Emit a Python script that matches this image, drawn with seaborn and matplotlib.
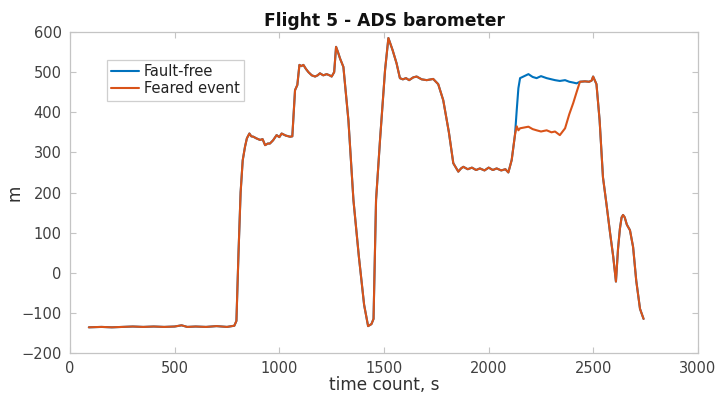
import numpy as np
import pandas as pd
import matplotlib
matplotlib.use("Agg")
import matplotlib.pyplot as plt
import seaborn as sns

# Barometric altitude over time (common part before the divergence)
t_pre = [90, 150, 200, 250, 300, 350, 400, 450, 500, 533, 560, 600, 650, 700, 750,
         785, 795, 805, 815, 825, 836, 845, 857, 866, 876, 890, 908, 920, 932, 945,
         955, 970, 987, 1000, 1011, 1030, 1051, 1062, 1075, 1086, 1096, 1105, 1115,
         1127, 1139, 1155, 1171, 1183, 1194, 1210, 1226, 1240, 1250, 1262, 1271,
         1280, 1290, 1306, 1330, 1354, 1380, 1405, 1424, 1440, 1450, 1462, 1481,
         1505, 1521, 1531, 1541, 1560, 1576, 1590, 1605, 1620, 1640, 1656, 1680,
         1704, 1735, 1759, 1783, 1810, 1831, 1855, 1868, 1879, 1900, 1920, 1940,
         1958, 1980, 2000, 2020, 2038, 2060, 2080, 2094, 2110, 2126]
h_pre = [-136, -135, -136, -135, -134, -135, -134, -135, -134, -131, -135, -134, -135, -133, -135,
         -132, -120, 50, 200, 280, 314, 335, 347, 340, 339, 335, 331, 333, 318, 322,
         322, 330, 343, 338, 347, 342, 339, 340, 455, 468, 518, 515, 518,
         508, 500, 492, 489, 492, 497, 492, 495, 492, 489, 500, 563,
         550, 534, 513, 380, 181, 40, -80, -133, -128, -115, 181, 331,
         505, 585, 570, 555, 522, 485, 482, 485, 480, 487, 489, 482,
         480, 483, 470, 430, 350, 273, 252, 260, 264, 258, 262, 256,
         260, 255, 262, 256, 260, 255, 258, 250, 281, 345]

# Segment where the two series differ
t_mid = [2134, 2142, 2150, 2170, 2190, 2210, 2229, 2250, 2277, 2300, 2317, 2340,
         2365, 2385, 2404, 2420]
h_mid_fault_free = [405, 460, 485, 490, 495, 488, 485, 490, 485, 482, 480, 478,
                    480, 476, 474, 472]
h_mid_feared = [365, 355, 360, 362, 364, 358, 355, 352, 355, 350, 352, 343,
                360, 395, 423, 450]

# Common part after the two series rejoin
t_post = [2436, 2460, 2480, 2492, 2499, 2515, 2530, 2546, 2563, 2580, 2595, 2608,
          2618, 2627, 2635, 2642, 2650, 2660, 2675, 2690, 2705, 2723, 2740]
h_post = [476, 477, 476, 479, 489, 470, 380, 238, 170, 99, 40, -22,
          60, 110, 138, 144, 138, 120, 106, 64, -20, -90, -115]

time = t_pre + t_mid + t_post
fault_free = h_pre + h_mid_fault_free + h_post
feared = h_pre + h_mid_feared + h_post

df = pd.DataFrame({"t": time, "ff": fault_free, "fe": feared})

sns.set_style("white")
plt.rcParams["font.family"] = ["DejaVu Sans"]

fig = plt.figure(figsize=(7.17, 4.03), dpi=100)
ax = fig.add_axes([70 / 717, 1 - 353 / 403, 628 / 717, 321 / 403])

blue = "#0072BD"
orange = "#D95319"
sns.lineplot(data=df, x="t", y="ff", ax=ax, color=blue, lw=1.5, sort=False,
             label="Fault-free")
sns.lineplot(data=df, x="t", y="fe", ax=ax, color=orange, lw=1.5, sort=False,
             label="Feared event")

ax.set_xlim(0, 3000)
ax.set_ylim(-200, 600)
ax.set_xticks(np.arange(0, 3001, 500))
ax.set_yticks(np.arange(-200, 601, 100))

grey = "#c4c4c4"
for s in ax.spines.values():
    s.set_visible(True)
    s.set_color(grey)
    s.set_linewidth(0.9)
ax.tick_params(direction="in", length=4, width=0.8, color=grey,
               labelcolor="#404040", labelsize=10.5, top=True, right=True,
               bottom=True, left=True)
ax.tick_params(axis="x", pad=6)
ax.tick_params(axis="y", pad=6)

ax.set_xlabel("time count, s", fontsize=12.2, color="#303030", labelpad=0)
ax.set_ylabel("m", fontsize=12.2, color="#303030")
ax.yaxis.set_label_coords(-0.074, 0.5)
ax.set_title("Flight 5 - ADS barometer", fontsize=12.3, fontweight="bold",
             color="#111111", pad=4)

leg = ax.legend(loc="upper left", bbox_to_anchor=(0.059, 0.913), borderaxespad=0,
                fancybox=False, frameon=True, fontsize=10.5, handlelength=1.9,
                handletextpad=0.3, borderpad=0.3, labelspacing=0.15)
leg.get_frame().set_edgecolor(grey)
leg.get_frame().set_linewidth(0.9)
for txt in leg.get_texts():
    txt.set_color("#222222")

fig.savefig("out.png", dpi=100)
